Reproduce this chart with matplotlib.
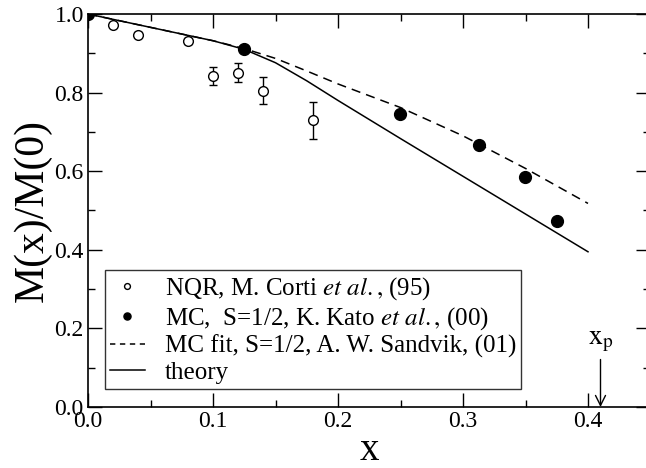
import numpy as np
import matplotlib
matplotlib.use("Agg")
import matplotlib.pyplot as plt

plt.rcParams['font.family'] = ['Liberation Serif', 'DejaVu Serif']
plt.rcParams['mathtext.fontset'] = 'stix'

# NQR data (M. Corti et al.)
nqr_x = [0.02, 0.04, 0.08, 0.10, 0.12, 0.14, 0.18]
nqr_y = [0.972, 0.947, 0.932, 0.843, 0.851, 0.805, 0.730]
nqr_err = [0.006, 0.006, 0.008, 0.023, 0.024, 0.035, 0.047]

# MC data (K. Kato et al.)
mc_x = [0.0, 0.125, 0.25, 0.3125, 0.35, 0.375]
mc_y = [1.0, 0.910, 0.746, 0.667, 0.586, 0.474]

# MC fit (A. W. Sandvik)
fit_x = [0.0, 0.05, 0.1, 0.125, 0.15, 0.175, 0.2, 0.225, 0.25, 0.3, 0.35, 0.4]
fit_y = [1.0, 0.966, 0.932, 0.912, 0.887, 0.855, 0.822, 0.792, 0.762, 0.690, 0.607, 0.518]

# theory
th_x = [0.0, 0.05, 0.1, 0.125, 0.15, 0.175, 0.2, 0.25, 0.3, 0.35, 0.4]
th_y = [1.0, 0.966, 0.932, 0.910, 0.876, 0.830, 0.780, 0.683, 0.587, 0.491, 0.395]

fig = plt.figure(figsize=(6.46, 4.68), dpi=100)
ax = fig.add_axes([88/646, 61/468, 562.5/646, 393/468])

l_fit, = ax.plot(fit_x, fit_y, color='black', lw=1.1, ls=(0, (6, 4)))
l_th, = ax.plot(th_x, th_y, color='black', lw=1.1)
ax.errorbar(nqr_x, nqr_y, yerr=nqr_err, fmt='none', ecolor='black',
            elinewidth=1.0, capsize=3.2, capthick=1.0, zorder=3)
l_nqr, = ax.plot(nqr_x, nqr_y, 'o', mfc='white', mec='black', ms=7,
                 mew=1.0, zorder=4)
l_mc, = ax.plot(mc_x, mc_y, 'o', color='black', ms=8.5, zorder=5)

ax.set_xlim(0, 0.45)
ax.set_ylim(0, 1.0)
ax.set_xticks(np.arange(0, 0.41, 0.1))
ax.set_xticks(np.arange(0.05, 0.45, 0.1), minor=True)
ax.set_yticks(np.arange(0, 1.01, 0.2))
ax.set_yticks(np.arange(0.1, 1.0, 0.2), minor=True)
ax.xaxis.set_major_formatter(matplotlib.ticker.FormatStrFormatter('%.1f'))
ax.yaxis.set_major_formatter(matplotlib.ticker.FormatStrFormatter('%.1f'))
ax.tick_params(which='both', direction='in', top=True, right=True,
               labelsize=17, width=1.0, pad=3)
ax.tick_params(which='major', length=10)
ax.tick_params(which='minor', length=5)
for s in ax.spines.values():
    s.set_linewidth(1.2)

ax.set_xlabel('x', fontsize=28, labelpad=0)
ax.set_ylabel('M(x)/M(0)', fontsize=30, labelpad=2)

ax.annotate(r'$\mathrm{x}_\mathrm{p}$', xy=(0.41, 0.0), xytext=(0.41, 0.135),
            ha='center', va='bottom', fontsize=20,
            arrowprops=dict(arrowstyle='->', color='black', lw=1.0,
                            shrinkA=2, shrinkB=0, mutation_scale=18))

legend_labels = [r'NQR, M. Corti $\it{et\ al.}\mathrm{,}$ (95)',
                 r'MC,  S=1/2, K. Kato $\it{et\ al.}\mathrm{,}$ (00)',
                 'MC fit, S=1/2, A. W. Sandvik, (01)',
                 'theory']
l_fit_leg = matplotlib.lines.Line2D([], [], color='black', lw=1.1, ls=(0, (3.5, 3)))
leg = ax.legend([l_nqr, l_mc, l_fit_leg, l_th], legend_labels,
                loc='lower left', bbox_to_anchor=(0.03, 0.046),
                fontsize=18, frameon=True, fancybox=False, handlelength=1.4,
                borderpad=0.2, labelspacing=0.12, handletextpad=0.8,
                borderaxespad=0, markerscale=0.6)
leg.get_frame().set_edgecolor('black')
leg.get_frame().set_linewidth(1.0)

fig.savefig('out.png', dpi=100)
